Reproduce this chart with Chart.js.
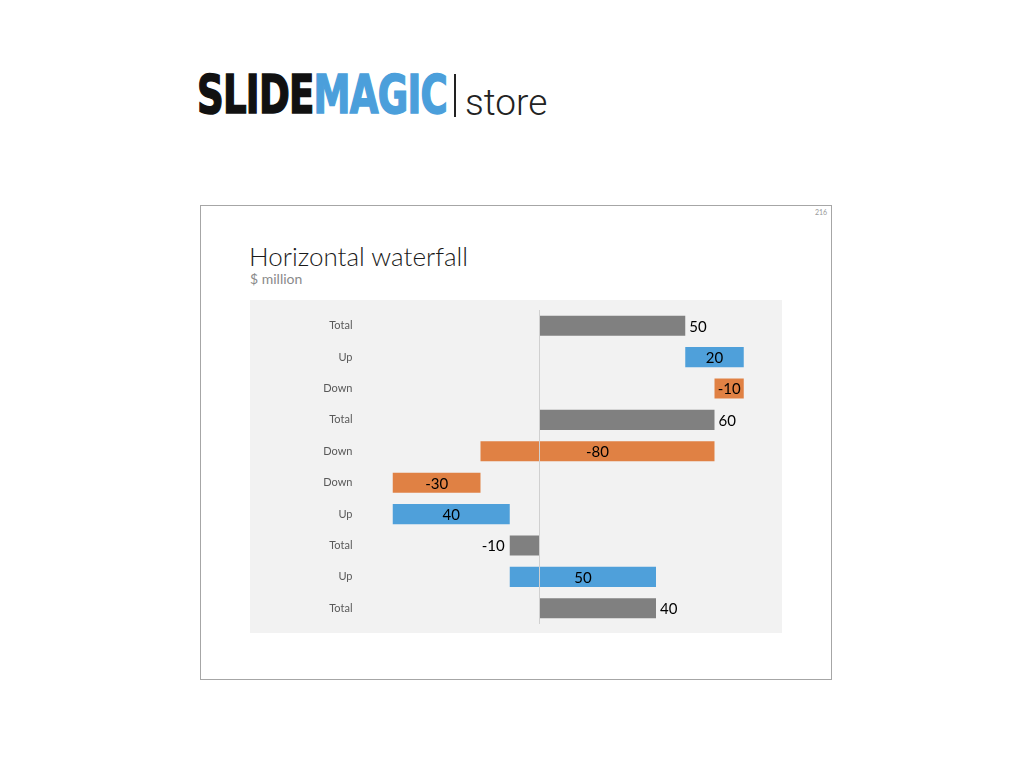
<!DOCTYPE html>
<html>
<head>
<meta charset="utf-8">
<script src="https://cdn.jsdelivr.net/npm/chart.js@4"></script>
<style>
  body { margin: 0; width: 1024px; height: 768px; background: #fff; position: relative; overflow: hidden; font-family: Lato, "Open Sans", sans-serif; }
  #logo { position: absolute; left: 197px; top: 67px; height: 56px; white-space: nowrap; }
  #logoWord { display: inline-block; transform-origin: 0 0; font-family: "DejaVu Sans Condensed", "DejaVu Sans", sans-serif; font-weight: bold; font-size: 54px; line-height: 56px; letter-spacing: -1px; -webkit-text-stroke: 1.5px currentColor; }
  #logoWord .a { color: #111; }
  #logoWord .b { color: #4b9fdb; }
  #sep { position: absolute; left: 454px; top: 74px; width: 2px; height: 43px; background: #222; }
  #store { position: absolute; left: 465px; top: 83px; font-family: Roboto, "Open Sans", sans-serif; font-weight: 300; font-size: 37px; line-height: 40px; color: #222; }
  #frame { position: absolute; left: 200px; top: 205px; width: 630px; height: 473px; border: 1px solid #a6a6a6; }
  #pageNo { position: absolute; left: 815px; top: 208px; font-size: 7px; color: #999; }
  #title { position: absolute; left: 249px; top: 239px; font-size: 26px; font-weight: 300; color: #1a1a1a; line-height: 34px; }
  #subtitle { position: absolute; left: 250px; top: 270px; font-size: 14px; color: #8a8a8a; line-height: 18px; }
  #plot { position: absolute; left: 250px; top: 300px; width: 532px; height: 333px; background: #f2f2f2; }
</style>
</head>
<body>
<div id="logo"><span id="logoWord"><span class="a">SLIDE</span><span class="b">MAGIC</span></span></div>
<div id="sep"></div>
<div id="store">store</div>
<div id="frame"></div>
<div id="pageNo">216</div>
<div id="title">Horizontal waterfall</div>
<div id="subtitle">$ million</div>
<div id="plot"><canvas id="myChart" width="532" height="333"></canvas></div>
<script>
// data, top row first
var categories = ["Total", "Up", "Down", "Total", "Down", "Down", "Up", "Total", "Up", "Total"];
var values = [50, 20, -10, 60, -80, -30, 40, -10, 50, 40];
var xMin = -60;
var xMax = 80;

var colorTotal = "#808080";
var colorUp = "#4fa0da";
var colorDown = "#e08144";

// fit logo word to its width
var word = document.getElementById("logoWord");
var w = word.getBoundingClientRect().width;
word.style.transform = "scaleX(" + (250 / w) + ")";

// floating bars: totals start at zero, steps start at running total
var bars = [];
var barColors = [];
var running = 0;
categories.forEach(function (cat, i) {
    var v = values[i];
    if (cat === "Total") {
        bars.push([0, v]);
        running = v;
        barColors.push(colorTotal);
    } else {
        bars.push([running, running + v]);
        running = running + v;
        barColors.push(cat === "Up" ? colorUp : colorDown);
    }
});

var labelFont = "15px Lato, 'Open Sans', sans-serif";

var waterfallExtras = {
    id: "waterfallExtras",
    afterDatasetsDraw: function (chart) {
        var ctx = chart.ctx;
        var x = chart.scales.x;
        var area = chart.chartArea;
        // zero line over the bars
        var x0 = Math.round(x.getPixelForValue(0)) + 0.5;
        ctx.save();
        ctx.strokeStyle = "#d0d0d0";
        ctx.lineWidth = 1;
        ctx.beginPath();
        ctx.moveTo(x0, area.top);
        ctx.lineTo(x0, area.bottom);
        ctx.stroke();

        // value labels
        ctx.font = labelFont;
        ctx.fillStyle = "#000";
        ctx.textBaseline = "middle";
        var meta = chart.getDatasetMeta(0);
        meta.data.forEach(function (bar, i) {
            var v = values[i];
            var txt = String(v);
            var yPos = bar.y + 1;
            if (categories[i] === "Total") {
                var xEnd = x.getPixelForValue(bars[i][1]);
                if (v >= 0) {
                    ctx.textAlign = "left";
                    ctx.fillText(txt, xEnd + 4, yPos);
                } else {
                    ctx.textAlign = "right";
                    ctx.fillText(txt, xEnd - 5, yPos);
                }
            } else {
                var xa = x.getPixelForValue(bars[i][0]);
                var xb = x.getPixelForValue(bars[i][1]);
                ctx.textAlign = "center";
                ctx.fillText(txt, (xa + xb) / 2, yPos);
            }
        });
        ctx.restore();
    }
};

var ctx = document.getElementById("myChart").getContext("2d");
var chart = new Chart(ctx, {
    type: "bar",
    data: {
        labels: categories,
        datasets: [
            {
                data: bars,
                backgroundColor: barColors,
                borderWidth: 0,
                borderSkipped: false,
                barPercentage: 0.64,
                categoryPercentage: 1
            }
        ]
    },
    options: {
        indexAxis: "y",
        responsive: false,
        animation: false,
        layout: {
            padding: { top: 10, bottom: 9, right: 9, left: 0 }
        },
        plugins: {
            legend: { display: false },
            tooltip: { enabled: false }
        },
        scales: {
            x: {
                display: false,
                min: xMin,
                max: xMax
            },
            y: {
                grid: { display: false, drawTicks: false },
                border: { display: false },
                ticks: {
                    padding: 11,
                    color: "#595959",
                    font: { family: "Lato, 'Open Sans', sans-serif", size: 11 }
                },
                afterFit: function (scale) {
                    scale.width = 113.5;
                    scale.paddingTop = 0;
                    scale.paddingBottom = 0;
                }
            }
        }
    },
    plugins: [waterfallExtras]
});
</script>
</body>
</html>
